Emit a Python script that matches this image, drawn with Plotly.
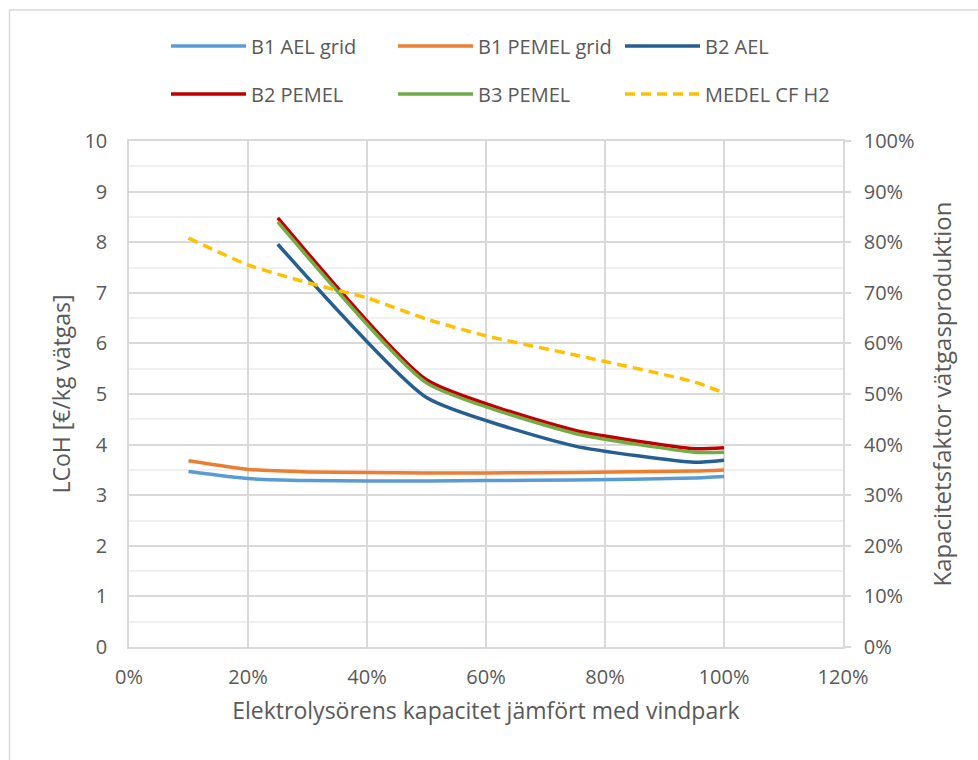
import plotly.graph_objects as go

# Electrolyser capacity relative to the wind farm (fraction)
x_b1 = [0.10, 0.20, 0.30, 0.40, 0.50, 0.60, 0.75, 0.95, 1.00]
x_b2 = [0.25, 0.50, 0.75, 0.95, 1.00]

# LCoH [€/kg H2]
b1_ael_grid = [3.47, 3.33, 3.29, 3.28, 3.28, 3.29, 3.30, 3.34, 3.37]
b1_pemel_grid = [3.68, 3.51, 3.46, 3.45, 3.44, 3.44, 3.45, 3.48, 3.50]
b2_ael = [7.96, 4.93, 3.97, 3.65, 3.69]
b2_pemel = [8.48, 5.28, 4.28, 3.92, 3.94]
b3_pemel = [8.40, 5.22, 4.22, 3.85, 3.85]

# Mean capacity factor of hydrogen production (right axis)
medel_cf_h2 = [0.808, 0.755, 0.720, 0.690, 0.648, 0.615, 0.577, 0.524, 0.502]

font_family = "'Open Sans', Lato, sans-serif"
text_col = "#595959"

fig = go.Figure()

series = [
    ("B1 AEL grid", x_b1, b1_ael_grid, "#5B9BD5", "legend"),
    ("B1 PEMEL grid", x_b1, b1_pemel_grid, "#ED7D31", "legend"),
    ("B2 AEL", x_b2, b2_ael, "#255E91", "legend"),
    ("B2 PEMEL", x_b2, b2_pemel, "#C00000", "legend2"),
    ("B3 PEMEL", x_b2, b3_pemel, "#70AD47", "legend2"),
]
for name, xs, ys, col, leg in series:
    fig.add_trace(go.Scatter(
        x=xs, y=ys, name=name, mode="lines", legend=leg,
        line=dict(color=col, width=3.5, shape="spline", smoothing=0.5),
    ))

fig.add_trace(go.Scatter(
    x=x_b1, y=medel_cf_h2, name="MEDEL CF H2", mode="lines", yaxis="y2",
    legend="legend2",
    line=dict(color="#FFC000", width=3.5, dash="10px,6px", shape="spline", smoothing=0.5),
))

W, H = 978, 760
L, R, T, B = 129, 135, 141, 113
pw, ph = W - L - R, H - T - B

def px_x(p):
    return (p - L) / pw

def px_y(p):
    return (H - B - p) / ph

legend_common = dict(
    orientation="h", entrywidth=137, entrywidthmode="pixels",
    font=dict(family=font_family, size=20, color=text_col),
    bgcolor="rgba(0,0,0,0)", xanchor="left", yanchor="middle",
    itemwidth=75, tracegroupgap=0,
)

fig.update_layout(
    width=W, height=H,
    margin=dict(l=L, r=R, t=T, b=B),
    paper_bgcolor="white", plot_bgcolor="white",
    font=dict(family=font_family, size=20, color=text_col),
    showlegend=True,
    legend=dict(x=px_x(166), y=px_y(46), **legend_common),
    legend2=dict(x=px_x(166), y=px_y(94), **legend_common),
    xaxis=dict(
        range=[0, 1.2], tickvals=[0, 0.2, 0.4, 0.6, 0.8, 1.0, 1.2],
        tickformat=".0%", showgrid=True, gridcolor="#D9D9D9", gridwidth=1.5,
        showline=True, linecolor="#D9D9D9", linewidth=1.5, mirror=True,
        zeroline=False, ticks="", ticklabelstandoff=11,
        tickfont=dict(size=20, color=text_col),
        title=dict(text="Elektrolysörens kapacitet jämfört med vindpark",
                   font=dict(size=23, color=text_col), standoff=14),
        fixedrange=True,
    ),
    yaxis=dict(
        range=[0, 10], tickvals=list(range(0, 11)),
        showgrid=True, gridcolor="#D9D9D9", gridwidth=1.5,
        minor=dict(dtick=0.5, showgrid=True, gridcolor="#F0F0F0", gridwidth=1.5),
        showline=True, linecolor="#D9D9D9", linewidth=1.5,
        zeroline=False, ticks="", ticklabelstandoff=16,
        tickfont=dict(size=20, color=text_col),
        title=dict(text="LCoH [€/kg vätgas]", font=dict(size=23, color=text_col),
                   standoff=7),
        fixedrange=True,
    ),
    yaxis2=dict(
        range=[0, 1.0], tickvals=[i / 10 for i in range(11)], tickformat=".0%",
        overlaying="y", side="right", showgrid=False,
        showline=True, linecolor="#D9D9D9", linewidth=1.5,
        ticks="outside", ticklen=6, tickcolor="#D9D9D9", tickwidth=1.5,
        zeroline=False, ticklabelstandoff=9,
        tickfont=dict(size=20, color=text_col),
        title=dict(text="Kapacitetsfaktor vätgasproduktion",
                   font=dict(size=24, color=text_col), standoff=21),
        fixedrange=True,
    ),
)

# Chart-area frame
fig.add_shape(type="rect", xref="paper", yref="paper",
              x0=px_x(9.5), x1=px_x(1000), y0=px_y(10), y1=px_y(790),
              line=dict(color="#D9D9D9", width=1.5), fillcolor="rgba(0,0,0,0)",
              layer="below")

fig.write_html("out.html")
